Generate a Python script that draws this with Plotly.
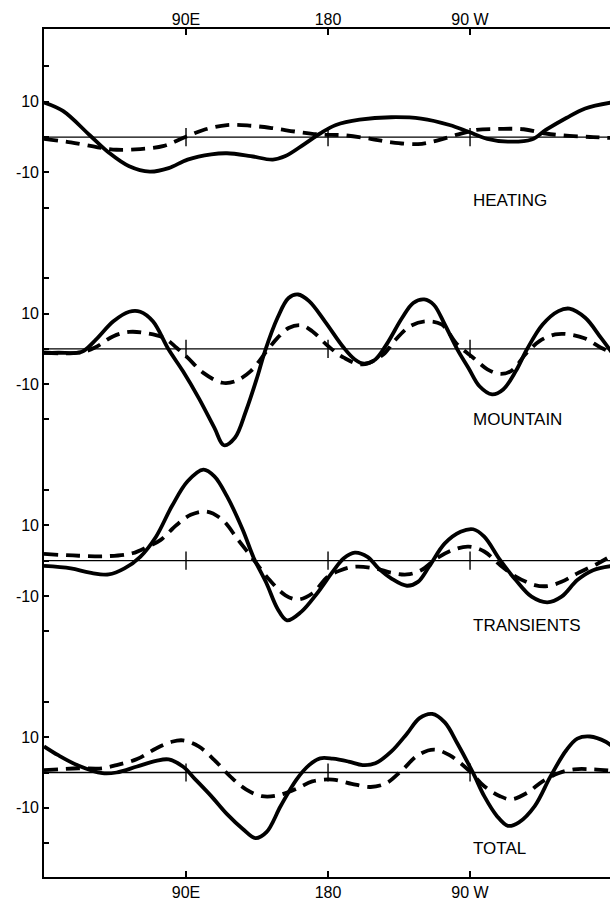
import plotly.graph_objects as go

# ---------------- data (longitude in degrees east, 0..360) ----------------
xtick_vals = [90, 180, 270]
xtick_text = ["90E", "180", "90 W"]

panel_names = ["HEATING", "MOUNTAIN", "TRANSIENTS", "TOTAL"]
panel_offsets = [180, 120, 60, 0]

heat_solid_lon = [0, 12, 29, 41, 54, 67, 79, 91, 106, 116, 131, 145, 153, 165, 175, 185, 200, 220, 239, 257, 269, 281, 294, 309, 318, 331, 343, 360]
heat_solid = [9.8, 7.4, 0.5, -4.4, -8.3, -9.8, -8.8, -6.4, -4.9, -4.6, -5.4, -6.4, -5.4, -2.0, 1.0, 3.4, 4.9, 5.6, 5.2, 3.4, 1.5, -0.5, -1.3, -0.7, 2.0, 5.4, 8.1, 9.8]
heat_dash_lon = [0, 17, 34, 46, 61, 76, 88, 101, 116, 131, 145, 160, 175, 190, 207, 220, 237, 249, 262, 274, 289, 304, 318, 333, 348, 360]
heat_dash = [-0.5, -1.5, -2.9, -3.6, -3.4, -2.5, -0.3, 2.0, 3.4, 3.2, 2.5, 1.5, 0.7, 0.5, -0.5, -1.5, -2.0, -1.0, 0.7, 2.0, 2.3, 2.2, 1.0, 0.3, 0.0, -0.3]

mtn_solid_lon = [0, 9, 24, 32, 44, 54, 61, 69, 79, 88, 98, 108, 114, 121, 128, 135, 140, 148, 155, 161, 168, 178, 190, 197, 203, 210, 217, 227, 234, 241, 247, 254, 262, 269, 276, 284, 291, 299, 306, 316, 326, 333, 343, 353, 360]
mtn_solid = [-1.1, -1.1, -0.8, 2.2, 7.8, 10.5, 10.5, 7.8, -0.2, -6.3, -13.9, -22.4, -27.3, -25.2, -17.6, -8.2, -0.7, 8.8, 14.4, 15.4, 13.5, 7.8, 0.3, -3.0, -4.2, -3.0, 1.2, 8.8, 13.0, 14.0, 12.5, 6.9, -0.2, -5.4, -10.6, -12.9, -11.5, -6.3, -0.2, 6.9, 10.7, 11.4, 8.8, 3.1, -1.1]
mtn_dash_lon = [0, 22, 32, 44, 54, 64, 76, 84, 91, 101, 113, 121, 131, 141, 148, 155, 163, 170, 180, 190, 202, 215, 222, 232, 242, 252, 262, 272, 281, 289, 296, 306, 314, 324, 333, 343, 353, 360]
mtn_dash = [-1.1, -1.1, 0.3, 3.6, 4.8, 4.5, 3.1, 0.3, -2.5, -6.8, -9.6, -9.2, -6.3, -0.7, 3.1, 5.9, 6.7, 5.0, 0.8, -2.5, -4.4, -1.6, 2.2, 6.4, 7.8, 6.9, 1.2, -2.5, -5.8, -7.1, -6.3, -1.1, 2.2, 4.1, 4.1, 2.9, 0.3, -1.1]

tr_solid_lon = [0, 17, 29, 41, 51, 61, 71, 81, 91, 101, 108, 116, 126, 133, 141, 148, 154, 163, 173, 183, 190, 197, 205, 212, 220, 230, 237, 244, 254, 264, 272, 279, 289, 299, 309, 319, 328, 338, 348, 360]
tr_solid = [-1.5, -2.2, -3.4, -3.9, -2.2, 1.1, 6.8, 15.4, 22.5, 25.8, 23.9, 18.2, 8.7, 0.7, -6.4, -13.6, -16.9, -14.5, -9.3, -3.1, 0.7, 2.3, 1.1, -2.2, -5.0, -7.1, -6.0, -1.7, 4.9, 8.2, 8.9, 6.8, 0.2, -5.5, -10.2, -11.8, -10.2, -5.5, -2.7, -1.5]
tr_dash_lon = [0, 22, 41, 56, 66, 74, 84, 93, 103, 113, 123, 133, 143, 153, 161, 170, 180, 188, 197, 210, 220, 230, 239, 249, 259, 269, 279, 289, 299, 311, 319, 328, 338, 351, 360]
tr_dash = [1.9, 1.4, 1.3, 2.1, 4.0, 5.9, 10.1, 13.0, 13.9, 11.6, 5.9, 0.2, -5.5, -9.8, -11.0, -9.3, -4.5, -2.7, -1.7, -2.2, -3.4, -3.9, -2.7, 0.7, 3.0, 4.0, 2.6, -1.2, -4.5, -6.9, -7.2, -6.0, -3.6, -0.8, 1.5]

tot_solid_lon = [0, 9, 22, 37, 46, 59, 71, 79, 88, 96, 106, 116, 126, 134, 141, 150, 160, 168, 175, 183, 193, 202, 210, 220, 230, 238, 246, 254, 262, 272, 279, 287, 294, 301, 311, 321, 331, 338, 346, 356, 360]
tot_solid = [7.4, 4.9, 1.9, -0.2, 0.0, 1.7, 3.3, 3.7, 1.7, -2.0, -6.7, -11.8, -16.0, -18.6, -16.9, -9.5, -2.0, 2.1, 4.0, 3.9, 3.1, 2.1, 2.6, 5.9, 11.0, 15.4, 16.6, 14.2, 8.2, -0.2, -6.7, -12.3, -15.1, -14.1, -9.5, -1.1, 6.3, 9.6, 10.2, 8.7, 7.4]
tot_dash_lon = [0, 9, 22, 37, 46, 59, 71, 81, 88, 98, 108, 118, 128, 138, 148, 161, 170, 183, 195, 207, 217, 227, 237, 247, 257, 269, 279, 289, 296, 306, 316, 326, 336, 348, 360]
tot_dash = [0.7, 0.9, 1.2, 1.2, 2.1, 3.8, 6.8, 8.7, 9.1, 7.4, 3.5, -1.1, -4.8, -6.7, -6.5, -4.4, -2.5, -2.0, -3.2, -4.1, -3.0, 0.7, 4.9, 6.5, 4.9, 0.7, -3.9, -6.7, -7.6, -5.8, -2.5, -0.2, 0.9, 0.9, 0.5]

solid_series = [(heat_solid_lon, heat_solid), (mtn_solid_lon, mtn_solid), (tr_solid_lon, tr_solid), (tot_solid_lon, tot_solid)]
dash_series = [(heat_dash_lon, heat_dash), (mtn_dash_lon, mtn_dash), (tr_dash_lon, tr_dash), (tot_dash_lon, tot_dash)]
label_rel_y = [-18, -20, -18.5, -21.5]

FONT = "Liberation Sans, Arial, sans-serif"

fig = go.Figure()
ytick_vals, ytick_text = [], []
for name, off, (sl, sv), (dl, dv), ly in zip(panel_names, panel_offsets, solid_series, dash_series, label_rel_y):
    # zero reference line with cross marks
    fig.add_trace(go.Scatter(x=[0, 360], y=[off, off], mode="lines",
                             line=dict(color="black", width=1.3), hoverinfo="skip"))
    fig.add_trace(go.Scatter(x=xtick_vals, y=[off] * len(xtick_vals), mode="markers",
                             marker=dict(symbol="line-ns", size=13, color="black",
                                         line=dict(color="black", width=1.4)), hoverinfo="skip"))
    fig.add_trace(go.Scatter(x=sl, y=[v + off for v in sv], mode="lines",
                             line=dict(color="black", width=3.8, shape="spline", smoothing=1.0)))
    fig.add_trace(go.Scatter(x=dl, y=[v + off for v in dv], mode="lines",
                             line=dict(color="black", width=3.8, dash="14px,8px", shape="spline", smoothing=1.0)))
    fig.add_annotation(x=270.5, y=off + ly, text=name, xanchor="left", yanchor="middle",
                       showarrow=False, font=dict(family=FONT, size=17, color="black"))
    ytick_vals += [off - 20, off - 10, off, off + 10, off + 20]
    ytick_text += ["", "-10", "", "10", ""]

# dummy trace for the top axis
fig.add_trace(go.Scatter(x=[0, 360], y=[0, 0], xaxis="x2", mode="lines",
                         line=dict(width=0), opacity=0, hoverinfo="skip"))

axis_font = dict(family=FONT, size=16, color="black")
fig.update_layout(
    width=610, height=900,
    margin=dict(l=44, r=0, t=29, b=23),
    paper_bgcolor="white", plot_bgcolor="white",
    showlegend=False,
    xaxis=dict(range=[0, 358.7], tickvals=xtick_vals, ticktext=xtick_text,
               ticks="inside", ticklen=6, tickwidth=1.5, tickcolor="black",
               showline=True, linecolor="black", linewidth=1.6, mirror=True,
               showgrid=False, zeroline=False, tickfont=axis_font),
    xaxis2=dict(range=[0, 358.7], overlaying="x", side="top", anchor="y",
                tickvals=xtick_vals, ticktext=xtick_text,
                ticks="inside", ticklen=6, tickwidth=1.5, tickcolor="black",
                showline=False, showgrid=False, zeroline=False, tickfont=axis_font),
    yaxis=dict(range=[-29.6, 210.6], tickvals=ytick_vals, ticktext=ytick_text,
               ticks="inside", ticklen=5, tickwidth=1.5, tickcolor="black",
               showline=True, linecolor="black", linewidth=1.6,
               showgrid=False, zeroline=False, tickfont=axis_font),
)

fig.write_html("out.html",
               config={"displayModeBar": False},
               post_script="document.body.style.margin='0px';document.body.style.overflow='hidden';")
